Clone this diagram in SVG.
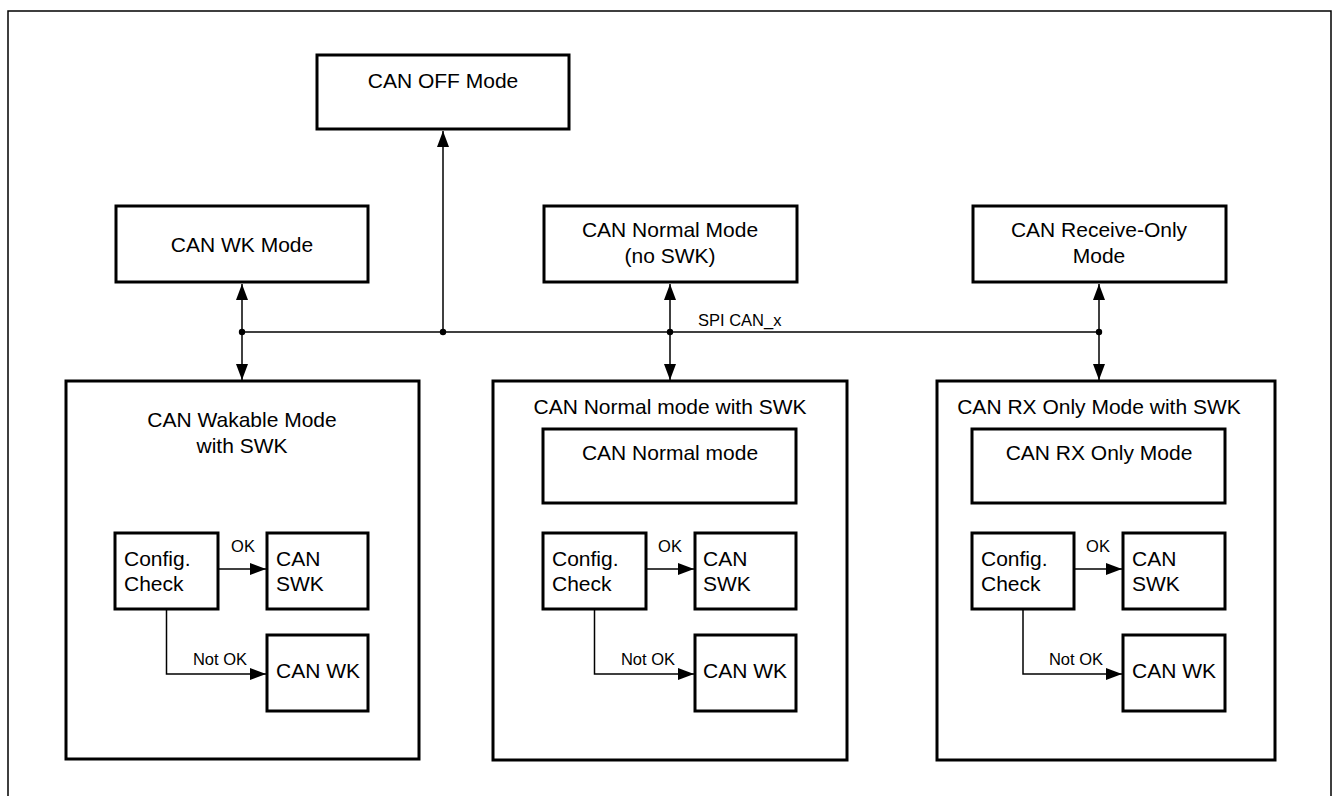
<svg xmlns="http://www.w3.org/2000/svg" width="1333" height="796" viewBox="0 0 1333 796">
<style>
.box{fill:#fff;stroke:#000;stroke-width:3}
.ln{fill:none;stroke:#000;stroke-width:1.5}
.t{font-family:"Liberation Sans",Arial,sans-serif;font-size:21px;fill:#000}
.s{font-family:"Liberation Sans",Arial,sans-serif;font-size:16.5px;fill:#000}
.m{text-anchor:middle}
</style>
<defs>
<marker id="ah" markerUnits="userSpaceOnUse" markerWidth="17" markerHeight="12" refX="16" refY="6" orient="auto">
<path d="M0,0 L16,6 L0,12 z" fill="#000"/>
</marker>
</defs>
<rect width="1333" height="796" fill="#fff"/>
<path class="ln" d="M8,800 V11 H1331 V800"/>

<g id="connectors">
<line class="ln" x1="242" y1="332" x2="1099" y2="332"/>
<line class="ln" x1="443" y1="332" x2="443" y2="131" marker-end="url(#ah)"/>
<line class="ln" x1="242" y1="332" x2="242" y2="284" marker-end="url(#ah)"/>
<line class="ln" x1="242" y1="332" x2="242" y2="380" marker-end="url(#ah)"/>
<line class="ln" x1="670" y1="332" x2="670" y2="284" marker-end="url(#ah)"/>
<line class="ln" x1="670" y1="332" x2="670" y2="380" marker-end="url(#ah)"/>
<line class="ln" x1="1099" y1="332" x2="1099" y2="284" marker-end="url(#ah)"/>
<line class="ln" x1="1099" y1="332" x2="1099" y2="380" marker-end="url(#ah)"/>
<circle cx="242" cy="332" r="3.2" fill="#000"/>
<circle cx="443" cy="332" r="3.2" fill="#000"/>
<circle cx="670" cy="332" r="3.2" fill="#000"/>
<circle cx="1099" cy="332" r="3.2" fill="#000"/>
<text class="s" x="698" y="326">SPI CAN_x</text>
</g>

<g id="can-off">
<rect class="box" x="317" y="55" width="252" height="74"/>
<text class="t m" x="443" y="88">CAN OFF Mode</text>
</g>
<g id="can-wk-mode">
<rect class="box" x="116" y="206" width="252" height="76"/>
<text class="t m" x="242" y="252">CAN WK Mode</text>
</g>
<g id="can-normal-noswk">
<rect class="box" x="544" y="206" width="253" height="76"/>
<text class="t m" x="670" y="237">CAN Normal Mode</text>
<text class="t m" x="670" y="263">(no SWK)</text>
</g>
<g id="can-receive-only">
<rect class="box" x="973" y="206" width="253" height="76"/>
<text class="t m" x="1099" y="237">CAN Receive-Only</text>
<text class="t m" x="1099" y="263">Mode</text>
</g>

<g id="wakable-swk">
<rect class="box" x="66" y="381" width="353" height="378"/>
<text class="t m" x="242" y="427">CAN Wakable Mode</text>
<text class="t m" x="242" y="453">with SWK</text>
<rect class="box" x="115" y="533" width="103" height="76"/>
<text class="t" x="124" y="566">Config.</text>
<text class="t" x="124" y="591">Check</text>
<rect class="box" x="267" y="533" width="101" height="76"/>
<text class="t" x="276" y="566">CAN</text>
<text class="t" x="276" y="591">SWK</text>
<rect class="box" x="267" y="635" width="101" height="76"/>
<text class="t" x="276" y="678">CAN WK</text>
<line class="ln" x1="218" y1="569" x2="266" y2="569" marker-end="url(#ah)"/>
<text class="s m" x="243" y="552">OK</text>
<path class="ln" d="M166.5,609 V674 H266" marker-end="url(#ah)"/>
<text class="s m" x="220" y="665">Not OK</text>
</g>

<g id="normal-swk">
<rect class="box" x="493" y="381" width="354" height="379"/>
<text class="t m" x="670" y="414">CAN Normal mode with SWK</text>
<rect class="box" x="543" y="429" width="253" height="74"/>
<text class="t m" x="670" y="460">CAN Normal mode</text>
<rect class="box" x="543" y="533" width="103" height="76"/>
<text class="t" x="552" y="566">Config.</text>
<text class="t" x="552" y="591">Check</text>
<rect class="box" x="695" y="533" width="101" height="76"/>
<text class="t" x="703" y="566">CAN</text>
<text class="t" x="703" y="591">SWK</text>
<rect class="box" x="695" y="635" width="101" height="76"/>
<text class="t" x="703" y="678">CAN WK</text>
<line class="ln" x1="646" y1="569" x2="694" y2="569" marker-end="url(#ah)"/>
<text class="s m" x="670" y="552">OK</text>
<path class="ln" d="M594.5,609 V674 H694" marker-end="url(#ah)"/>
<text class="s m" x="648" y="665">Not OK</text>
</g>

<g id="rx-only-swk">
<rect class="box" x="937" y="381" width="338" height="379"/>
<text class="t m" x="1099" y="414">CAN RX Only Mode with SWK</text>
<rect class="box" x="972" y="429" width="253" height="74"/>
<text class="t m" x="1099" y="460">CAN RX Only Mode</text>
<rect class="box" x="972" y="533" width="102" height="76"/>
<text class="t" x="981" y="566">Config.</text>
<text class="t" x="981" y="591">Check</text>
<rect class="box" x="1123" y="533" width="102" height="76"/>
<text class="t" x="1132" y="566">CAN</text>
<text class="t" x="1132" y="591">SWK</text>
<rect class="box" x="1123" y="635" width="102" height="76"/>
<text class="t" x="1132" y="678">CAN WK</text>
<line class="ln" x1="1074" y1="569" x2="1122" y2="569" marker-end="url(#ah)"/>
<text class="s m" x="1098" y="552">OK</text>
<path class="ln" d="M1023,609 V674 H1122" marker-end="url(#ah)"/>
<text class="s m" x="1076" y="665">Not OK</text>
</g>
</svg>
